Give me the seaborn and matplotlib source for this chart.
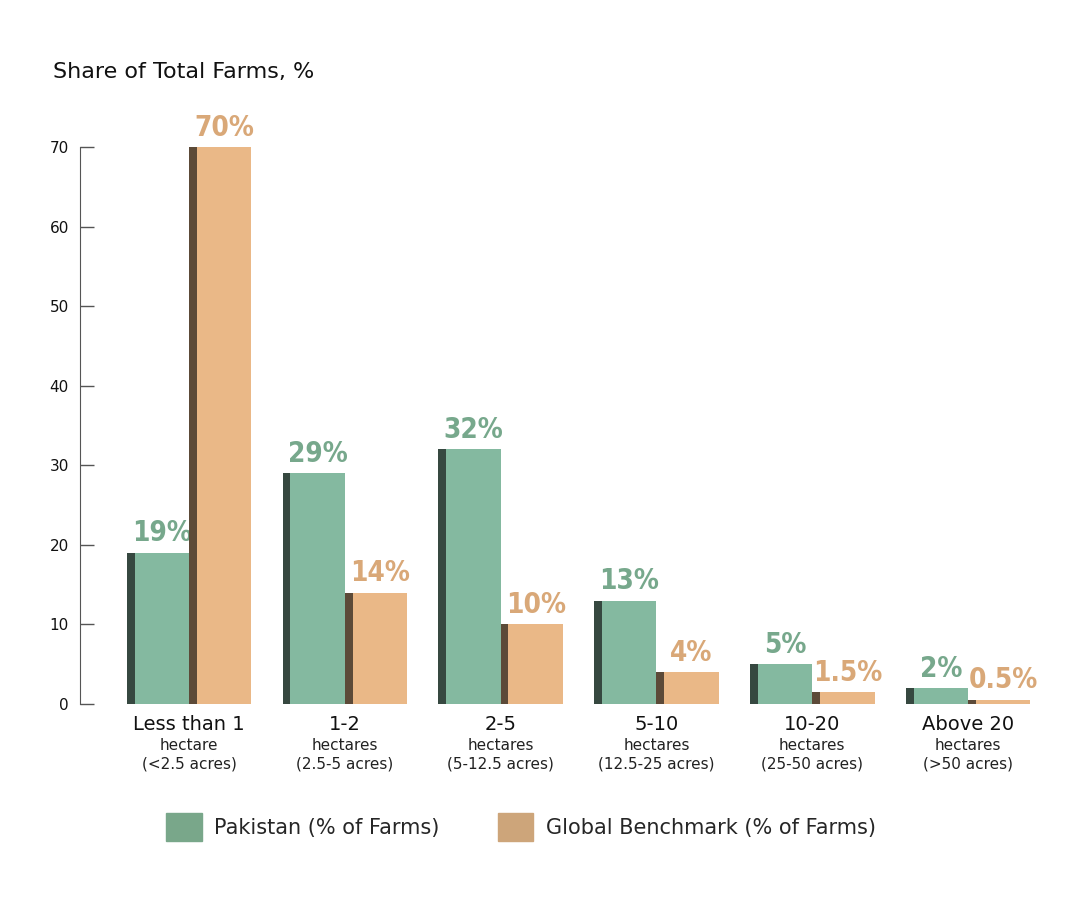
import numpy as np
import pandas as pd
import seaborn as sns
import matplotlib.pyplot as plt
from matplotlib.patches import Rectangle, Patch
from matplotlib.transforms import blended_transform_factory

# Datos
size_classes = ['Less than 1', '1-2', '2-5', '5-10', '10-20', 'Above 20']
size_units = ['hectare', 'hectares', 'hectares', 'hectares', 'hectares', 'hectares']
size_acres = ['(<2.5 acres)', '(2.5-5 acres)', '(5-12.5 acres)', '(12.5-25 acres)',
              '(25-50 acres)', '(>50 acres)']
pakistan = [19, 29, 32, 13, 5, 2]
global_bench = [70, 14, 10, 4, 1.5, 0.5]
pakistan_labels = ['19%', '29%', '32%', '13%', '5%', '2%']
global_labels = ['70%', '14%', '10%', '4%', '1.5%', '0.5%']
series = ['Pakistan (% of Farms)', 'Global Benchmark (% of Farms)']

df = pd.DataFrame({
    'size': size_classes * 2,
    'share': pakistan + global_bench,
    'series': [series[0]] * 6 + [series[1]] * 6,
})

bar_colors = ['#84B9A0', '#EAB887']
shadow_colors = ['#364840', '#5C4A38']
text_colors = ['#77A88C', '#D9A878']
legend_colors = ['#79A78A', '#CDA57A']

sns.set_style('white')
plt.rcParams['font.family'] = ['DejaVu Sans']

fig = plt.figure(figsize=(10.81, 9.11), dpi=100)
ax = fig.add_axes([0.074, 0.2272, 0.9066, 0.655])

sns.barplot(data=df, x='size', y='share', hue='series', palette=bar_colors,
            width=0.8, saturation=1, legend=False, linewidth=0, ax=ax)

# sombra lateral y etiquetas de valor
labels = [pakistan_labels, global_labels]
for k, cont in enumerate(ax.containers):
    for j, bar in enumerate(cont):
        x0 = bar.get_x()
        w = bar.get_width()
        h = bar.get_height()
        ax.add_patch(Rectangle((x0, 0), 0.05, h, color=shadow_colors[k], lw=0, zorder=3))
        ax.annotate(labels[k][j], (x0 + 0.05 + (w - 0.05) / 2, h), xytext=(0, 4),
                    textcoords='offset points', ha='center', va='bottom',
                    fontsize=20, fontweight='bold', fontstretch='condensed',
                    family=['Liberation Sans Narrow', 'DejaVu Sans'],
                    color=text_colors[k])

ax.set_xlim(-0.70, 5.59)
ax.set_ylim(0, 75)
ax.set_yticks(range(0, 71, 10))
ax.tick_params(axis='y', left=True, direction='in', length=10, width=1, pad=8,
               labelsize=11, color='#555555', labelcolor='#111111')
ax.tick_params(axis='x', bottom=False, length=0, pad=8, labelsize=14, labelcolor='#111111')
ax.set_xticks(range(len(size_classes)))
ax.set_xticklabels(size_classes)
ax.set_xlabel('')
ax.set_ylabel('')
for s in ['top', 'right', 'bottom']:
    ax.spines[s].set_visible(False)
ax.spines['left'].set_bounds(0, 70)
ax.spines['left'].set_color('#555555')

trans = blended_transform_factory(ax.transData, ax.transAxes)
for i in range(len(size_classes)):
    ax.text(i, -0.069, size_units[i], transform=trans, ha='center', va='center',
            fontsize=11, color='#222222')
    ax.text(i, -0.100, size_acres[i], transform=trans, ha='center', va='center',
            fontsize=11, color='#222222')

fig.text(0.049, 0.921, 'Share of Total Farms, %', fontsize=16, ha='left', va='center',
         color='#111111')

handles = [Patch(color=legend_colors[0], label=series[0]),
           Patch(color=legend_colors[1], label=series[1])]
fig.legend(handles=handles, loc='center', bbox_to_anchor=(0.482, 0.092), ncol=2,
           frameon=False, fontsize=15, handlelength=1.7, handleheight=1.7,
           columnspacing=2.8, handletextpad=0.6)

plt.savefig('out.png', dpi=100)
